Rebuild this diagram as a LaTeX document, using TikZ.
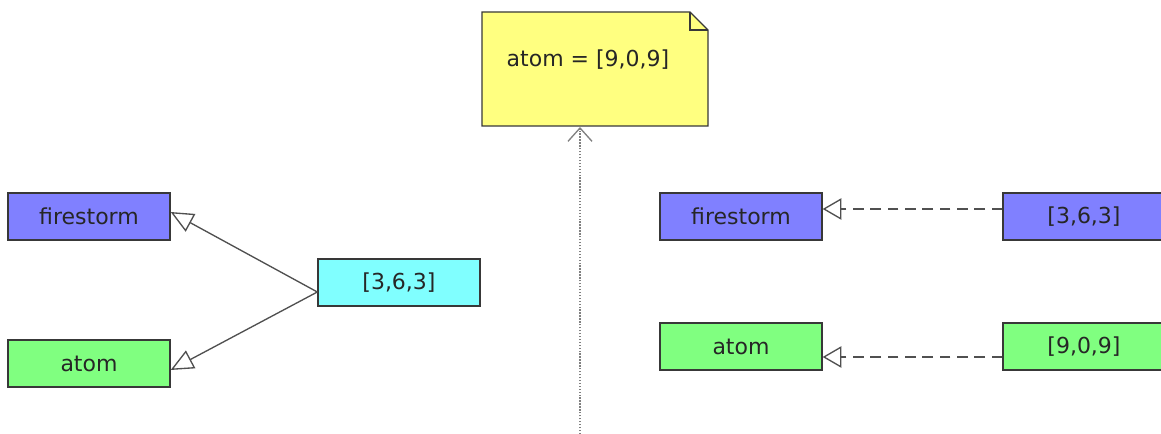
\documentclass[tikz,border=0pt]{standalone}
\usepackage{fontspec}
\setmainfont{DejaVu Sans}
\usetikzlibrary{arrows.meta,calc}
\definecolor{cblue}{HTML}{8080FF}
\definecolor{cgreen}{HTML}{80FF80}
\definecolor{ccyan}{HTML}{80FFFF}
\definecolor{cyell}{HTML}{FFFF80}
\definecolor{bord}{HTML}{383838}
\definecolor{arr}{HTML}{505050}
\begin{document}
\begin{tikzpicture}[x=0.75pt,y=-0.75pt,
  box/.style={draw=bord,line width=1pt,minimum width=121.5pt,minimum height=35.25pt,inner sep=0pt,
    font=\fontsize{16.5}{18}\selectfont,text=black!85},
  gen/.style={draw=arr,line width=1pt,-{Triangle[open,length=17pt,width=15pt,fill=white]}},
  real/.style={draw=arr,line width=1pt,dash pattern=on 8pt off 5pt,-{Triangle[open,length=14pt,width=16pt,fill=white]}},
  notelink/.style={draw=gray,line width=1pt,dash pattern=on 1pt off 1.2pt,-{Straight Barb[length=10pt,width=18pt]}}]
\useasboundingbox (0,0) rectangle (1161,434);
% left group
\node[box,fill=cblue] (fs1) at (89,216.5) {firestorm};
\node[box,fill=cgreen] (at1) at (89,363.5) {atom};
\node[box,fill=ccyan] (c1) at (399,282.5) {[3,6,3]};
\draw[gen] ($(c1.west)+(0,9.5)$) -- ($(fs1.east)+(0,-4.5)$);
\draw[gen] ($(c1.west)+(0,9.5)$) -- ($(at1.east)+(0,6.5)$);
% note
\draw[draw=bord,line width=1pt,fill=cyell] (482,12) -- (690,12) -- (708,30) -- (708,126) -- (482,126) -- cycle;
\draw[draw=bord,line width=1pt] (690,12) -- (690,30) -- (708,30);
\node[font=\fontsize{16.5}{18}\selectfont,text=black!85] (note) at (588,60) {atom = [9,0,9]};
\coordinate (nb) at (580,127);
\coordinate (ne) at (580,434);
\draw[notelink] (ne) -- (nb);
% right group
\node[box,fill=cblue] (fs2) at (741,216.5) {firestorm};
\node[box,fill=cgreen] (at2) at (741,346.5) {atom};
\node[box,fill=cblue] (c2) at (1084,216.5) {[3,6,3]};
\node[box,fill=cgreen] (c3) at (1084,346.5) {[9,0,9]};
\draw[real] ($(c2.west)+(0,-7.5)$) -- ($(fs2.east)+(0,-7.5)$);
\draw[real] ($(c3.west)+(0,10.5)$) -- ($(at2.east)+(0,10.5)$);
\end{tikzpicture}
\end{document}
